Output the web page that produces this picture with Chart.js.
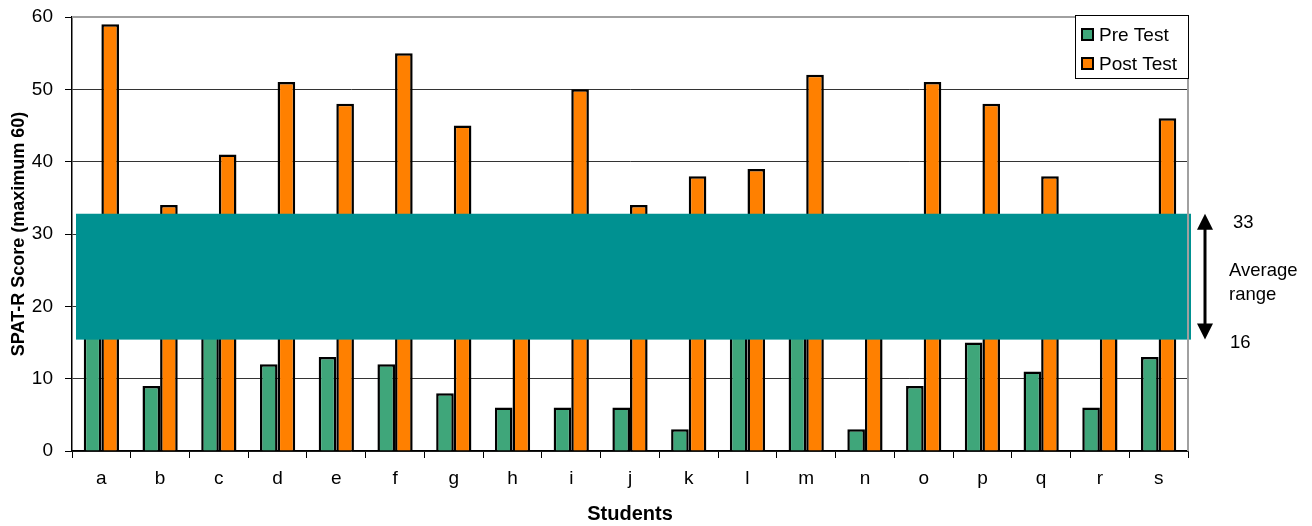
<!DOCTYPE html>
<html>
<head>
<meta charset="utf-8">
<script src="https://cdn.jsdelivr.net/npm/chart.js@4.4.1/dist/chart.umd.min.js"></script>
<style>
  html, body { margin: 0; padding: 0; background: #fff; }
  #wrap { width: 1312px; height: 526px; }
</style>
</head>
<body>
<div id="wrap"><canvas id="grafico" width="1312" height="526"></canvas></div>
<script>
const estudiantes = ['a','b','c','d','e','f','g','h','i','j','k','l','m','n','o','p','q','r','s'];
const preTest  = [18, 9, 20, 12, 13, 12, 8, 6, 6, 6, 3, 17, 19, 3, 9, 15, 11, 6, 13];
const postTest = [59, 34, 41, 51, 48, 55, 45, 28, 50, 34, 38, 39, 52, 25, 51, 48, 38, 30, 46];
const ticksY = [0, 10, 20, 30, 40, 50, 60];
const rangoBajo = 15.4;
const rangoAlto = 32.8;

const fuente = '"Liberation Sans", Arial, sans-serif';

// banda del rango promedio, flecha, borde y leyenda
const extras = {
  id: 'extras',
  afterDatasetsDraw(chart) {
    const { ctx, chartArea: a, scales: { y } } = chart;
    const yTop = y.getPixelForValue(rangoAlto);
    const yBot = y.getPixelForValue(rangoBajo);
    ctx.save();
    ctx.fillStyle = '#009191';
    ctx.fillRect(a.left + 4, yTop, a.right + 3 - (a.left + 4), yBot - yTop);

    // borde gris arriba y derecha
    ctx.strokeStyle = '#a0a0a0';
    ctx.lineWidth = 2;
    ctx.beginPath();
    ctx.moveTo(a.left, a.top);
    ctx.lineTo(a.right, a.top);
    ctx.lineTo(a.right, a.bottom);
    ctx.stroke();

    // flecha doble
    const ax = 1205;
    ctx.strokeStyle = '#000';
    ctx.fillStyle = '#000';
    ctx.lineWidth = 3;
    ctx.beginPath();
    ctx.moveTo(ax, yTop + 12);
    ctx.lineTo(ax, yBot - 12);
    ctx.stroke();
    ctx.beginPath();
    ctx.moveTo(ax, yTop); ctx.lineTo(ax - 8, yTop + 16); ctx.lineTo(ax + 8, yTop + 16); ctx.closePath();
    ctx.fill();
    ctx.beginPath();
    ctx.moveTo(ax, yBot); ctx.lineTo(ax - 8, yBot - 16); ctx.lineTo(ax + 8, yBot - 16); ctx.closePath();
    ctx.fill();

    ctx.font = '18.5px ' + fuente;
    ctx.textBaseline = 'middle';
    ctx.textAlign = 'left';
    ctx.fillText(String(Math.round(rangoAlto)), 1233, yTop + 9);
    ctx.fillText(String(Math.round(rangoBajo + 0.6)), 1230, yBot + 3);
    ctx.fillText('Average', 1229, 271);
    ctx.fillText('range', 1229, 295);

    // leyenda
    const lx = 1075, ly = 15, lw = 113, lh = 63;
    ctx.fillStyle = '#fff';
    ctx.fillRect(lx, ly, lw, lh);
    ctx.strokeStyle = '#000';
    ctx.lineWidth = 1;
    ctx.strokeRect(lx + 0.5, ly + 0.5, lw, lh);
    chart.data.datasets.forEach((ds, i) => {
      const cy = ly + 20 + i * 29;
      ctx.fillStyle = ds.backgroundColor;
      ctx.fillRect(lx + 7, cy - 6, 11, 11);
      ctx.lineWidth = 2;
      ctx.strokeStyle = '#000';
      ctx.strokeRect(lx + 7, cy - 6, 11, 11);
      ctx.fillStyle = '#000';
      ctx.font = '19px ' + fuente;
      ctx.fillText(ds.label, lx + 24, cy + 1);
    });
    ctx.restore();
  }
};

const ctx = document.getElementById('grafico').getContext('2d');
new Chart(ctx, {
  type: 'bar',
  data: {
    labels: estudiantes,
    datasets: [
      { label: 'Pre Test', data: preTest, backgroundColor: '#3FA67A', borderColor: '#000', borderWidth: 2.5 },
      { label: 'Post Test', data: postTest, backgroundColor: '#FF8000', borderColor: '#000', borderWidth: 2.5 }
    ]
  },
  options: {
    responsive: false,
    animation: false,
    devicePixelRatio: 1,
    layout: { padding: { top: 17, right: 124, left: 0, bottom: 0 } },
    datasets: { bar: { categoryPercentage: 0.6, barPercentage: 1.0 } },
    plugins: {
      legend: { display: false },
      tooltip: { enabled: false }
    },
    scales: {
      x: {
        afterFit: s => { s.height = 75; },
        grid: { drawOnChartArea: false, drawTicks: true, tickLength: 7, color: '#000', offset: true },
        border: { color: '#000', width: 1.5 },
        ticks: { color: '#000', font: { family: fuente, size: 19 }, padding: 9 },
        title: { display: true, text: 'Students', color: '#000', font: { family: fuente, size: 20, weight: 'bold' }, padding: { top: 10, bottom: 0 } }
      },
      y: {
        min: 0, max: 60,
        afterFit: s => { s.width = 72; s.paddingTop = 0; s.paddingBottom = 0; },
        afterBuildTicks: s => { s.ticks = ticksY.map(v => ({ value: v })); },
        grid: {
          color: c => c.tick.value === 60 ? '#a0a0a0' : '#333',
          lineWidth: 1,
          tickLength: 7,
          tickColor: '#000'
        },
        border: { color: '#000', width: 1.5 },
        ticks: { color: '#000', font: { family: fuente, size: 19 }, padding: 12 },
        title: { display: true, text: 'SPAT-R Score (maximum 60)', color: '#000', font: { family: fuente, size: 18, weight: 'bold' }, padding: { bottom: 0, top: 8 } }
      }
    }
  },
  plugins: [extras]
});
</script>
</body>
</html>
